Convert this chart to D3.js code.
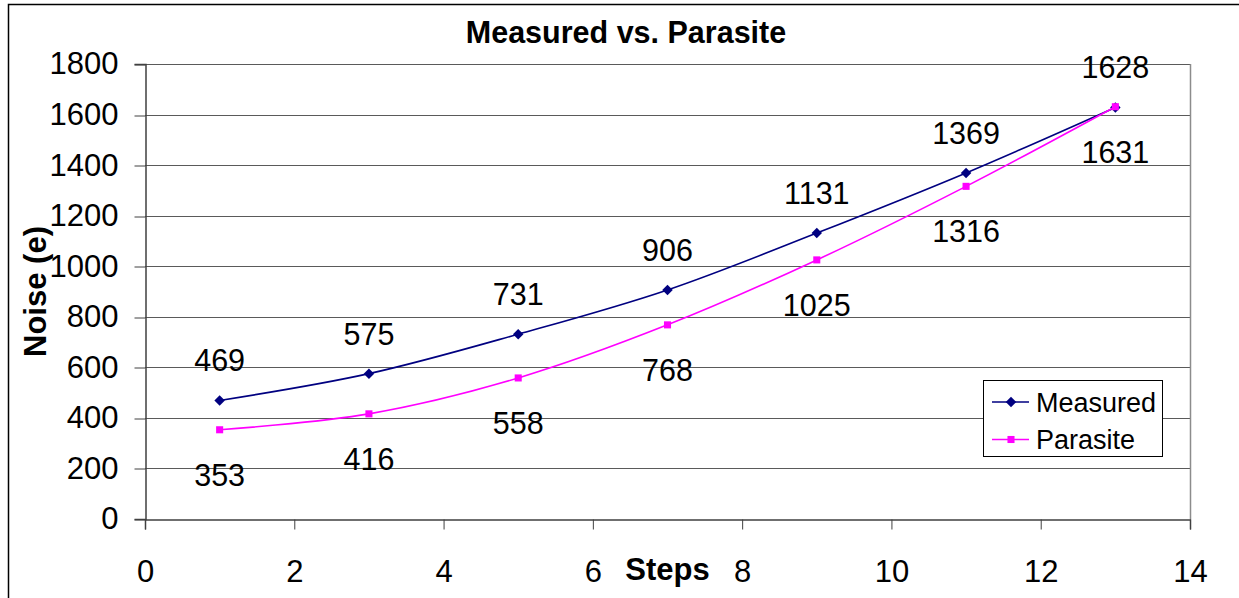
<!DOCTYPE html>
<html>
<head>
<meta charset="utf-8">
<script src="https://cdn.jsdelivr.net/npm/d3@7"></script>
<style>
  html, body { margin: 0; padding: 0; background: #fff; }
  svg { display: block; font-family: "Liberation Sans", Arial, sans-serif; }
</style>
</head>
<body>
<svg id="chart" width="1239" height="598"></svg>
<script>
// Noise per step for the two series
const steps = [1, 3, 5, 7, 9, 11, 13];
const measured = [469, 575, 731, 906, 1131, 1369, 1628];
const parasite = [353, 416, 558, 768, 1025, 1316, 1631];
const xTicks = [0, 2, 4, 6, 8, 10, 12, 14];
const yTicks = [0, 200, 400, 600, 800, 1000, 1200, 1400, 1600, 1800];
const seriesNames = ["Measured", "Parasite"];

const svg = d3.select("#chart");
const W = 1239, H = 598;
const plot = { left: 145, right: 1190, top: 64, bottom: 519 };

// outer chart frame (runs past the right and bottom edges)
svg.append("rect")
  .attr("x", 8.5).attr("y", 4.5)
  .attr("width", W + 20).attr("height", H + 20)
  .attr("fill", "#fff").attr("stroke", "#000").attr("stroke-width", 1.5);

const x = d3.scaleLinear().domain([0, 14]).range([plot.left, plot.right]);
const y = d3.scaleLinear().domain([0, 1800]).range([plot.bottom, plot.top]);

// horizontal gridlines
svg.append("g")
  .selectAll("line")
  .data(yTicks.filter(d => d > 0))
  .join("line")
  .attr("x1", plot.left).attr("x2", plot.right)
  .attr("y1", d => Math.round(y(d)) + 0.5).attr("y2", d => Math.round(y(d)) + 0.5)
  .attr("stroke", "#5a5a5a").attr("stroke-width", 1);

// right edge of the plot area
svg.append("line")
  .attr("x1", plot.right + 0.5).attr("x2", plot.right + 0.5)
  .attr("y1", plot.top).attr("y2", plot.bottom)
  .attr("stroke", "#8c8c8c").attr("stroke-width", 1.5);

// Y axis
const yAxis = d3.axisLeft(y).tickValues(yTicks).tickFormat(d3.format("d"))
  .tickSize(11).tickPadding(16);
const gy = svg.append("g")
  .attr("transform", `translate(${plot.left + 0.5},0)`)
  .call(yAxis);
gy.select(".domain").attr("stroke", "#404040").attr("stroke-width", 1.5);
gy.selectAll(".tick line").attr("stroke", "#404040")
  .attr("transform", d => `translate(0,${Math.round(y(d)) + 0.5 - y(d)})`);
gy.selectAll(".tick text")
  .attr("font-size", 31).attr("fill", "#000")
  .attr("font-family", "Liberation Sans, Arial, sans-serif");

// X axis
const xAxis = d3.axisBottom(x).tickValues(xTicks).tickSize(10).tickPadding(30);
const gx = svg.append("g")
  .attr("transform", `translate(0,${plot.bottom + 0.5})`)
  .call(xAxis);
gx.select(".domain").attr("stroke", "#404040").attr("stroke-width", 1.5);
gx.selectAll(".tick line").attr("stroke", "#404040");
gx.selectAll(".tick text")
  .attr("font-size", 31).attr("fill", "#000")
  .attr("font-family", "Liberation Sans, Arial, sans-serif");

// titles
svg.append("text")
  .attr("x", 626).attr("y", 43)
  .attr("text-anchor", "middle")
  .attr("font-size", 30.5).attr("font-weight", "bold")
  .text("Measured vs. Parasite");

svg.append("text")
  .attr("x", (plot.left + plot.right) / 2).attr("y", 580)
  .attr("text-anchor", "middle")
  .attr("font-size", 31).attr("font-weight", "bold")
  .text("Steps");

svg.append("text")
  .attr("transform", `translate(46,${(plot.top + plot.bottom) / 2}) rotate(-90)`)
  .attr("text-anchor", "middle")
  .attr("font-size", 31).attr("font-weight", "bold")
  .text("Noise (e)");

// series: diamond markers for Measured, squares for Parasite
const diamond = d3.symbolDiamond2 || d3.symbolDiamond;
const series = [
  { name: seriesNames[0], values: measured, color: "#000080", shape: diamond, size: 70, labelDy: -29 },
  { name: seriesNames[1], values: parasite, color: "#ff00ff", shape: d3.symbolSquare, size: 50, labelDy: 56 }
];

const line = d3.line()
  .x(d => x(d[0]))
  .y(d => y(d[1]))
  .curve(d3.curveCatmullRom.alpha(0));

series.forEach(s => {
  const pts = steps.map((st, i) => [st, s.values[i]]);
  const g = svg.append("g");
  g.append("path")
    .datum(pts)
    .attr("d", line)
    .attr("fill", "none")
    .attr("stroke", s.color)
    .attr("stroke-width", 1.6);
  g.selectAll("path.mk")
    .data(pts)
    .join("path")
    .attr("class", "mk")
    .attr("d", d3.symbol().type(s.shape).size(s.size))
    .attr("transform", d => `translate(${x(d[0])},${y(d[1])})`)
    .attr("fill", s.color);
  g.selectAll("text")
    .data(pts)
    .join("text")
    .attr("x", d => x(d[0]))
    .attr("y", d => y(d[1]) + s.labelDy)
    .attr("text-anchor", "middle")
    .attr("font-size", 30.5)
    .attr("fill", "#000")
    .text(d => d[1]);
});

// legend
const lg = svg.append("g").attr("transform", "translate(983,380)");
lg.append("rect")
  .attr("x", 0.5).attr("y", 0.5).attr("width", 179).attr("height", 76)
  .attr("fill", "#fff").attr("stroke", "#000").attr("stroke-width", 1);
series.forEach((s, i) => {
  const cy = 22 + i * 37.5;
  lg.append("line")
    .attr("x1", 9).attr("x2", 46).attr("y1", cy).attr("y2", cy)
    .attr("stroke", s.color).attr("stroke-width", 1.6);
  lg.append("path")
    .attr("d", d3.symbol().type(s.shape).size(s.size)())
    .attr("transform", `translate(28,${cy})`)
    .attr("fill", s.color);
  lg.append("text")
    .attr("x", 53).attr("y", cy + 9.5)
    .attr("font-size", 27)
    .attr("fill", "#000")
    .text(s.name);
});
</script>
</body>
</html>
